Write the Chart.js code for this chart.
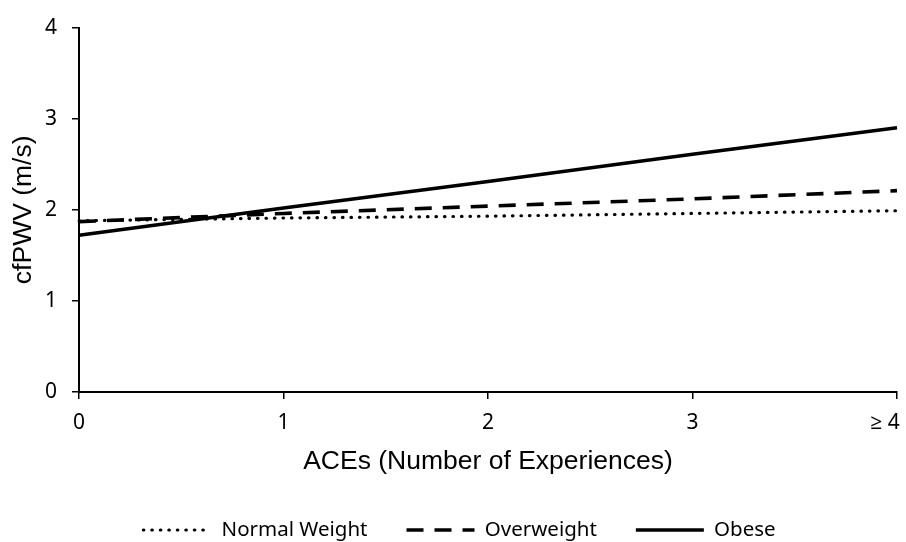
<!DOCTYPE html>
<html>
<head>
<meta charset="utf-8">
<title>cfPWV by ACEs</title>
<script src="https://cdn.jsdelivr.net/npm/chart.js@4/dist/chart.umd.min.js"></script>
<style>
  html, body { margin: 0; padding: 0; background: #fff; }
  #wrap { width: 906px; height: 542px; position: relative; }
</style>
</head>
<body>
<div id="wrap"><canvas id="pwvChart"></canvas></div>
<script>
// Number of adverse childhood experiences
const aceLabels = ['0', '1', '2', '3', '≥ 4'];
const yTicks = [0, 1, 2, 3, 4];

// cfPWV (m/s) per weight group
const normalWeight = [1.88, 1.91, 1.93, 1.96, 1.99];
const overweight = [1.87, 1.96, 2.04, 2.12, 2.21];
const obese = [1.72, 2.02, 2.31, 2.61, 2.90];

const seriesNames = ['Normal Weight', 'Overweight', 'Obese'];

const tickFont = { family: '"Noto Sans", "Open Sans", sans-serif', size: 21 };
const legendFont = { family: '"Noto Sans", "Open Sans", sans-serif', size: 20.5 };
const titleFont = { family: '"Liberation Sans", Arial, sans-serif', size: 26.5 };

// nudge the legend row a little to the right of the canvas centre
const legendShift = {
	id: 'legendShift',
	afterLayout(chart) {
		if (chart.legend) {
			chart.legend.left += 11;
			chart.legend.right += 11;
		}
	}
};

const ctx = document.getElementById('pwvChart').getContext('2d');
new Chart(ctx, {
	type: 'line',
	data: {
		labels: aceLabels,
		datasets: [
			{
				label: seriesNames[0],
				data: normalWeight,
				borderColor: '#000',
				borderWidth: 3.2,
				borderDash: [0.5, 8],
				borderCapStyle: 'round',
				pointRadius: 0,
				fill: false
			},
			{
				label: seriesNames[1],
				data: overweight,
				borderColor: '#000',
				borderWidth: 3.6,
				borderDash: [17, 11],
				borderCapStyle: 'butt',
				pointRadius: 0,
				fill: false
			},
			{
				label: seriesNames[2],
				data: obese,
				borderColor: '#000',
				borderWidth: 3.6,
				pointRadius: 0,
				fill: false
			}
		]
	},
	plugins: [legendShift],
	options: {
		responsive: true,
		maintainAspectRatio: false,
		animation: false,
		layout: { padding: { top: 23, right: 9, bottom: -8.25, left: 0 } },
		plugins: {
			tooltip: { enabled: false },
			legend: {
				position: 'bottom',
				labels: {
					usePointStyle: true,
					pointStyleWidth: 68,
					padding: 39,
					color: '#000',
					font: legendFont,
					generateLabels(chart) {
						return chart.data.datasets.map((ds, i) => ({
							text: ds.label,
							datasetIndex: i,
							pointStyle: 'line',
							fillStyle: '#000',
							strokeStyle: '#000',
							lineWidth: ds.borderWidth,
							lineDash: ds.borderDash || [],
							lineCap: ds.borderCapStyle || 'butt',
							hidden: false
						}));
					}
				}
			}
		},
		scales: {
			x: {
				type: 'category',
				offset: false,
				border: { display: true, color: '#000', width: 2 },
				grid: { display: true, drawOnChartArea: false, drawTicks: true, tickLength: 7, color: '#000', lineWidth: 1.5 },
				ticks: {
					color: '#000',
					font: tickFont,
					padding: 11,
					maxRotation: 0,
					autoSkip: false,
					// last label sits inside the plot edge
					callback(value, index) {
						const lab = aceLabels[index];
						return index === aceLabels.length - 1 ? lab + '\u2007\u2007' : lab;
					}
				},
				title: {
					display: true,
					text: 'ACEs (Number of Experiences)',
					color: '#000',
					font: titleFont,
					padding: { top: 0, bottom: 3.4 }
				},
				afterFit(scale) {
					scale.height = 88.75;
					scale.paddingRight = 0;
					scale.paddingLeft = 0;
				}
			},
			y: {
				min: 0,
				max: 4,
				border: { display: true, color: '#000', width: 2 },
				grid: { display: true, drawOnChartArea: false, drawTicks: true, tickLength: 7, color: '#000', lineWidth: 1.5 },
				afterBuildTicks(scale) {
					scale.ticks = yTicks.map(v => ({ value: v }));
				},
				ticks: {
					color: '#000',
					font: tickFont,
					padding: 15
				},
				title: {
					display: true,
					text: 'cfPWV (m/s)',
					color: '#000',
					font: titleFont,
					padding: { top: 8, bottom: 0 }
				},
				afterFit(scale) {
					scale.width = 79;
				}
			}
		}
	}
});
</script>
</body>
</html>
